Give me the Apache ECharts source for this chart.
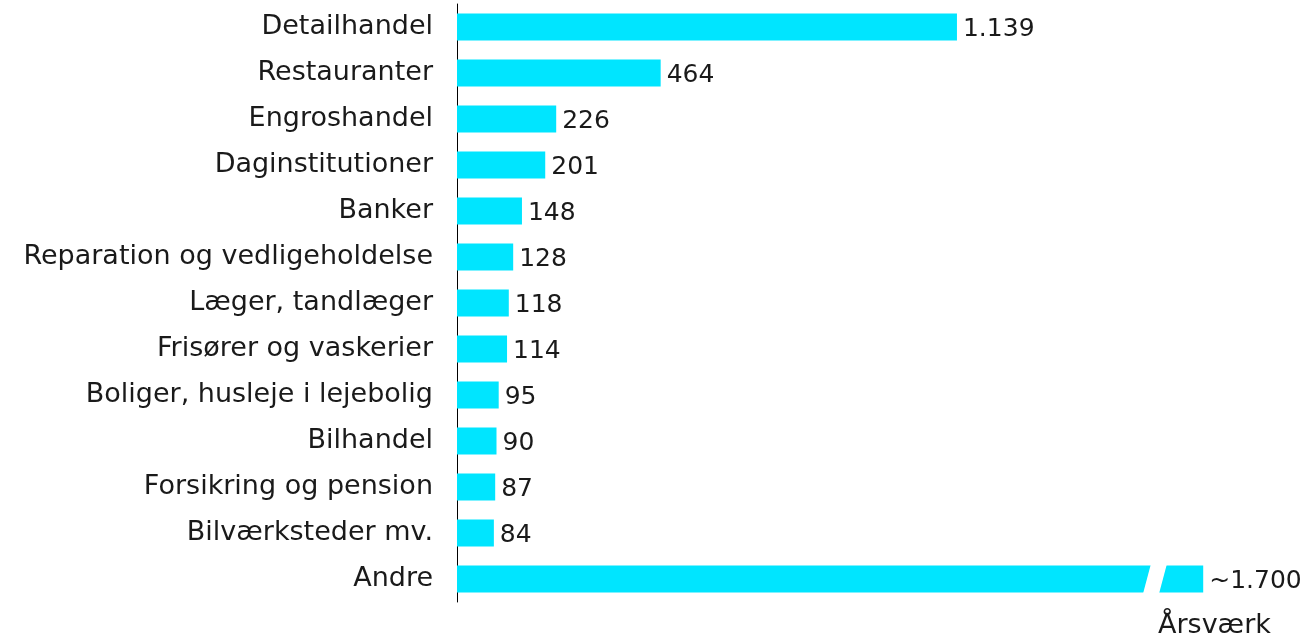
<!DOCTYPE html>
<html>
<head>
<meta charset="utf-8">
<script src="https://cdn.jsdelivr.net/npm/echarts@6/dist/echarts.min.js"></script>
<style>
html,body{margin:0;padding:0;background:#fff;}
#c{width:1303px;height:641px;}
</style>
</head>
<body>
<div id="c"></div>
<script>
const categories = ["Detailhandel","Restauranter","Engroshandel","Daginstitutioner","Banker","Reparation og vedligeholdelse","Læger, tandlæger","Frisører og vaskerier","Boliger, husleje i lejebolig","Bilhandel","Forsikring og pension","Bilværksteder mv.","Andre"];
const values = [1139,464,226,201,148,128,118,114,95,90,87,84,1700];
const valueLabels = ["1.139","464","226","201","148","128","118","114","95","90","87","84","~1.700"];
const breakPoints = [[1590, "Andre"]];
const axisTitle = "Årsværk";

const FONT = "'DejaVu Sans', sans-serif";
const chart = echarts.init(document.getElementById('c'));
chart.setOption({
  animation:false,
  backgroundColor:'#fff',
  grid:{left:457,right:12,top:4,bottom:39},
  xAxis:{type:'value',min:0,max:1900,show:false},
  yAxis:{
    type:'category',data:categories,inverse:true,
    axisLine:{show:true,lineStyle:{color:'#000',width:1}},
    axisTick:{show:false},
    axisLabel:{fontFamily:FONT,fontSize:27,color:'#1a1a1a',margin:24}
  },
  title:{text:axisTitle,left:1158,top:612,padding:0,textStyle:{fontFamily:FONT,fontSize:27,fontWeight:'normal',color:'#1a1a1a'}},
  series:[
    {
      type:'bar',data:values,barWidth:27,
      itemStyle:{color:'#00E5FF'},
      label:{show:true,position:'right',distance:6,fontFamily:FONT,fontSize:25,color:'#1a1a1a',
        offset:[0,2],
        formatter:p=>valueLabels[p.dataIndex]}
    },
    {
      type:'custom',z:5,data:breakPoints,
      renderItem:function(params,api){
        const c = api.coord([api.value(0), api.value(1)]);
        const h = 15;
        return {type:'polygon',shape:{points:[[c[0]-4,c[1]-h],[c[0]+12,c[1]-h],[c[0]+4,c[1]+h],[c[0]-12,c[1]+h]]},
          style:{fill:'#fff'}};
      },
      encode:{x:0,y:1}
    }
  ]
});
</script>
</body>
</html>
